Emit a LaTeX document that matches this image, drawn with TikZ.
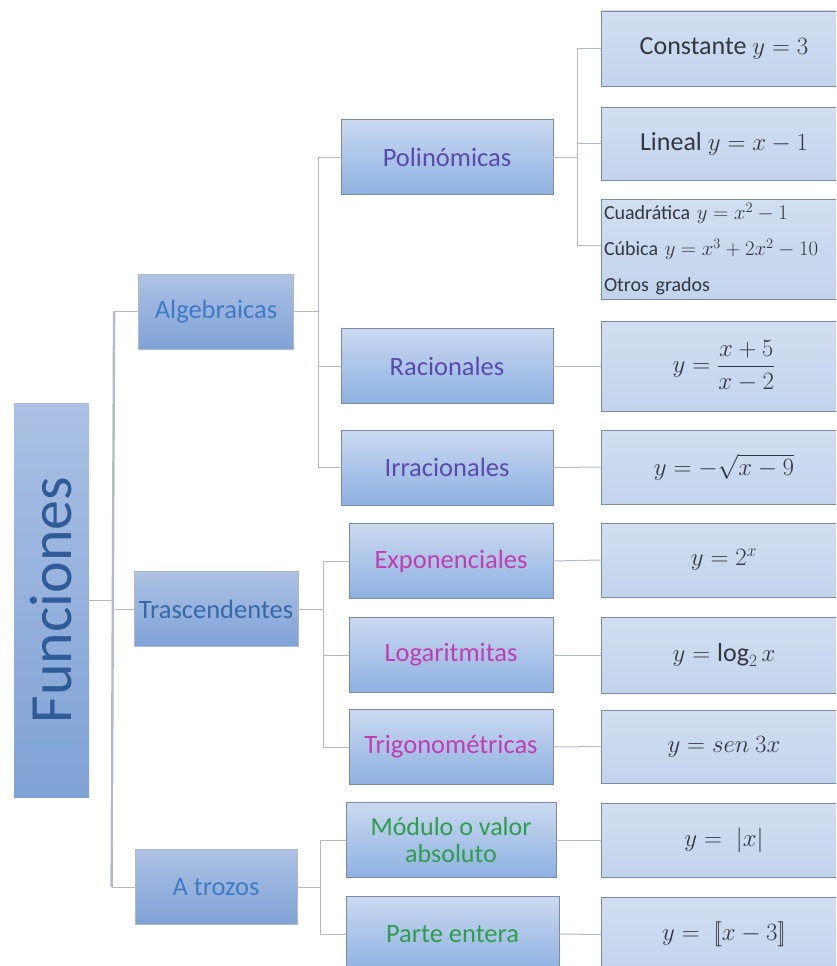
\documentclass[tikz,border=0pt]{standalone}
\usepackage{amsmath}
\usepackage{fontspec}
\setmainfont{Carlito}

\definecolor{deeptop}{HTML}{AEC2E4}
\definecolor{deepbot}{HTML}{7FA2D6}
\definecolor{boxtop}{HTML}{CAD9F0}
\definecolor{boxbot}{HTML}{8EB1E2}
\definecolor{flattop}{HTML}{D2DEF1}
\definecolor{flatbot}{HTML}{C2D4ED}
\definecolor{edge}{HTML}{7C8BA2}
\definecolor{wireg}{HTML}{B4BBC7}
\definecolor{funtext}{HTML}{2F5C98}
\definecolor{algtext}{HTML}{3D7BC8}
\definecolor{poltext}{HTML}{5A4AAE}
\definecolor{exptext}{HTML}{C13DB0}
\definecolor{modtext}{HTML}{2E9E4C}
\definecolor{mathgray}{HTML}{333740}

\begin{document}
\begin{tikzpicture}
[x=1pt,y=-1pt,
 wire/.style={draw=wireg,line width=1pt},
 trunk/.style={draw=wireg,line width=2.4pt},
 basebox/.style={draw=edge,line width=0.8pt,inner sep=2pt,align=center,font=\fontsize{26.5}{28}\selectfont},
 lbox/.style={basebox,top color=deeptop,bottom color=deepbot,draw=edge!60,text=algtext,minimum height=75pt},
 mbox/.style={basebox,top color=boxtop,bottom color=boxbot,minimum height=75pt},
 rbox/.style={basebox,top color=flattop,bottom color=flatbot,minimum width=246pt,text=mathgray,font=\fontsize{26}{28}\selectfont},
]

\useasboundingbox (0,0) rectangle (836,966);
\clip (0,0) rectangle (836,966);

%Column centres
\def\colL{216}
\def\colM{449}
\def\colR{724}

%Drawing boxes
\node[basebox,rotate=90,top color=deeptop!90!boxbot,bottom color=deepbot,draw=none,
      minimum width=394pt,minimum height=75pt,text=funtext,font=\fontsize{60}{62}\selectfont]
      (fun) at (51.5,600) {Funciones};

\node[lbox,minimum width=155pt] (alg) at (\colL,311.5) {Algebraicas};
\node[lbox,minimum width=164pt,text=algtext!85!black] (tra) at (\colL,609) {Trascendentes};
\node[lbox,minimum width=162pt] (atr) at (\colL,887) {A trozos};

\node[mbox,minimum width=212pt,text=poltext] (pol) at (447,157) {Polinómicas};
\node[mbox,minimum width=212pt,text=poltext] (rac) at (447,366) {Racionales};
\node[mbox,minimum width=212pt,text=poltext] (irr) at (447,467.5) {Irracionales};
\node[mbox,minimum width=204pt,text=exptext] (exp) at (451,561) {Exponenciales};
\node[mbox,minimum width=204pt,text=exptext] (log) at (451,655) {Logaritmitas};
\node[mbox,minimum width=204pt,text=exptext] (tri) at (451,747) {Trigonométricas};
\node[mbox,minimum width=210pt,text=modtext,font=\fontsize{26}{27}\selectfont] (mod) at (451,840) {Módulo o valor\\absoluto};
\node[mbox,minimum width=213pt,text=modtext] (par) at (452.5,934) {Parte entera};

\node[rbox,minimum height=75pt] (con) at (\colR,48.5) {Constante $y=3$};
\node[rbox,minimum height=73pt] (lin) at (\colR,143.5) {Lineal $y=x-1$};
\node[rbox,minimum height=100pt,align=left,text width=240pt,inner xsep=3pt,
      font=\fontsize{20}{36}\selectfont] (cua) at (\colR,249)
      {Cuadrática $y=x^2-1$\\Cúbica $y=x^3+2x^2-10$\\Otros grados};
\node[rbox,minimum height=90pt] (rac2) at (\colR,366) {$y=\dfrac{x+5}{x-2}$};
\node[rbox,minimum height=74pt] (irr2) at (\colR,467) {$y=-\sqrt{x-9}$};
\node[rbox,minimum height=74pt] (exp2) at (\colR,560) {$y=2^x$};
\node[rbox,minimum height=76pt] (log2) at (\colR,655) {$y=\log_2 x$};
\node[rbox,minimum height=73pt] (tri2) at (\colR,746.5) {$y=sen\ 3x$};
\node[rbox,minimum height=74pt] (mod2) at (\colR,840) {$y=\;|x|$};
\node[rbox,minimum height=75pt] (par2) at (\colR,934.5) {$y=\;[\![x-3]\!]$};

%Drawing lines
\draw[trunk] ([xshift=-24pt]alg.west) -- ([xshift=-23pt]atr.west);
\draw[wire] (fun.south) -- ++(25,0);
\draw[wire] (alg.west) -- ++(-24,0);
\draw[wire] (tra.west) -- ++(-19,0);
\draw[wire] (atr.west) -- ++(-23,0);

\draw[wire] (alg.east) -- ++(25,0) |- (pol.west);
\draw[wire] (alg.east) -- ++(25,0) |- (rac.west);
\draw[wire] (alg.east) -- ++(25,0) |- (irr.west);

\draw[wire] (pol.east) -- ++(24,0) |- (con.west);
\draw[wire] (pol.east) -- ++(24,0) |- (lin.west);
\draw[wire] (pol.east) -- ++(24,0) |- ([yshift=4pt]cua.west);
\draw[wire] (rac.east) -- (rac2.west);
\draw[wire] (irr.east) -- (irr2.west);

\draw[wire] (tra.east) -- ++(25,0) |- (exp.west);
\draw[wire] (tra.east) -- ++(25,0) |- (log.west);
\draw[wire] (tra.east) -- ++(25,0) |- (tri.west);
\draw[wire] (exp.east) -- (exp2.west);
\draw[wire] (log.east) -- (log2.west);
\draw[wire] (tri.east) -- (tri2.west);

\draw[wire] (atr.east) -- ++(23,0) |- (mod.west);
\draw[wire] (atr.east) -- ++(23,0) |- (par.west);
\draw[wire] (mod.east) -- (mod2.west);
\draw[wire] (par.east) -- (par2.west);

\end{tikzpicture}
\end{document}
